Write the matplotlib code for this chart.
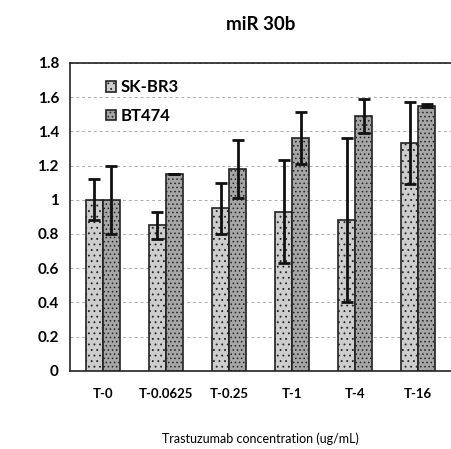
import matplotlib
matplotlib.use("Agg")
import matplotlib.pyplot as plt
import numpy as np

categories = ["T-0", "T-0.0625", "T-0.25", "T-1", "T-4", "T-16"]
skbr3 = [1.00, 0.85, 0.95, 0.93, 0.88, 1.33]
skbr3_err = [0.12, 0.08, 0.15, 0.30, 0.48, 0.24]
bt474 = [1.00, 1.15, 1.18, 1.36, 1.49, 1.55]
bt474_err = [0.20, 0.00, 0.17, 0.15, 0.10, 0.01]
yticks = [0, 0.2, 0.4, 0.6, 0.8, 1, 1.2, 1.4, 1.6, 1.8]
ytick_labels = ["0", "0.2", "0.4", "0.6", "0.8", "1", "1.2", "1.4", "1.6", "1.8"]

plt.rcParams['font.family'] = ['Lato', 'DejaVu Sans']
plt.rcParams['hatch.color'] = '#8c8c8c'
plt.rcParams['hatch.linewidth'] = 0.6

fig = plt.figure(figsize=(4.52, 4.49), dpi=100)
ax = fig.add_axes([0.155, 0.174, 0.843, 0.686])

x = np.arange(len(categories))
w = 0.27
ax.bar(x - w / 2, skbr3, w, yerr=skbr3_err, color="#cdcdcd", edgecolor="#222222",
       linewidth=1.2, hatch="...", label="SK-BR3",
       error_kw=dict(ecolor="#111111", elinewidth=2, capsize=4, capthick=2), zorder=3)
ax.bar(x + w / 2, bt474, w, yerr=bt474_err, color="#a6a6a6", edgecolor="#222222",
       linewidth=1.2, hatch="....", label="BT474",
       error_kw=dict(ecolor="#111111", elinewidth=2, capsize=4, capthick=2), zorder=3)

ax.set_xlim(-0.52, len(categories) - 0.48)
ax.set_ylim(0, 1.8)
ax.set_yticks(yticks)
ax.set_yticklabels(ytick_labels, fontsize=11, fontweight="bold")
ax.set_xticks(x)
ax.set_xticklabels(categories, fontsize=9.5, fontweight="bold")
ax.tick_params(axis="both", length=0, pad=8)
ax.tick_params(axis="x", pad=12)
ax.yaxis.grid(True, linestyle=(0, (3, 3)), color="#aaaaaa", linewidth=0.7, zorder=0)
ax.set_axisbelow(True)
ax.spines["right"].set_visible(False)
for s in ["left", "top", "bottom"]:
    ax.spines[s].set_color("#222222")
    ax.spines[s].set_linewidth(1.2)

ax.set_title("miR 30b", fontsize=13.5, fontweight="bold", pad=24)
ax.set_xlabel("Trastuzumab concentration (ug/mL)", fontsize=9, labelpad=24)

leg = ax.legend(loc="upper left", bbox_to_anchor=(0.055, 0.995), frameon=False,
                fontsize=12, handlelength=0.6, handleheight=0.6, handletextpad=0.3,
                labelspacing=0.75)
for t in leg.get_texts():
    t.set_fontweight("bold")

fig.savefig("out.png", dpi=100)
